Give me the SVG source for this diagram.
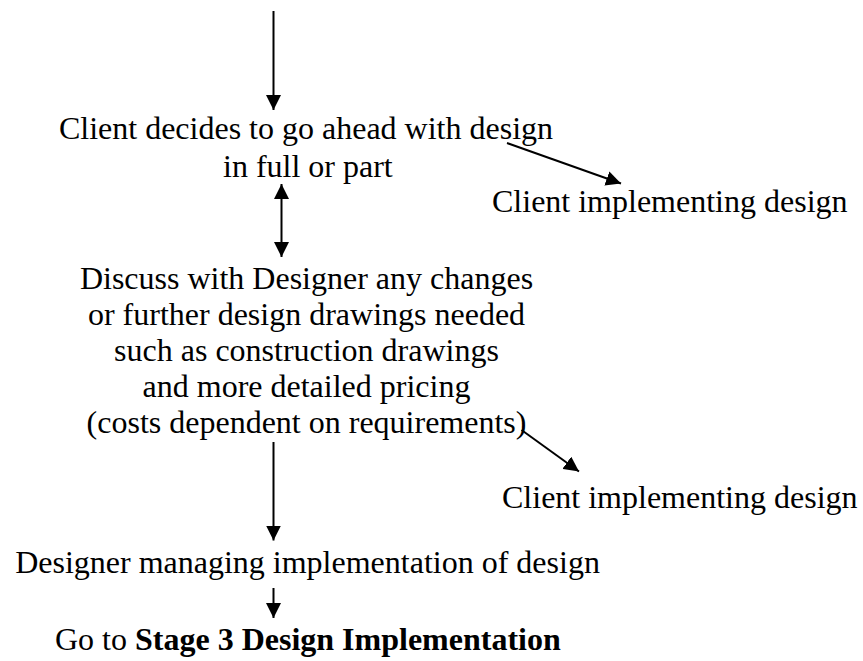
<svg xmlns="http://www.w3.org/2000/svg" width="863" height="661" viewBox="0 0 863 661">
  <style>
    text { font-family: "Liberation Serif", "Times New Roman", serif; font-size: 32px; fill: #000; }
    .b { font-weight: bold; }
    .c { stroke: #000; stroke-width: 2; fill: none; }
  </style>
  <defs>
    <marker id="ah" markerUnits="userSpaceOnUse" markerWidth="15" markerHeight="15" refX="15" refY="7.5" orient="auto-start-reverse" viewBox="0 0 15 15">
      <path d="M0,0 L15,7.5 L0,15 z" fill="#000"/>
    </marker>
  </defs>
  <rect width="863" height="661" fill="#fff"/>

  <g id="connectors">
    <line class="c" x1="273.5" y1="11" x2="273.5" y2="110" marker-end="url(#ah)"/>
    <line class="c" x1="507" y1="143" x2="621" y2="183.5" marker-end="url(#ah)"/>
    <line class="c" x1="281.5" y1="184" x2="281.5" y2="257" marker-start="url(#ah)" marker-end="url(#ah)"/>
    <line class="c" x1="521.5" y1="430" x2="579" y2="471.5" marker-end="url(#ah)"/>
    <line class="c" x1="273.5" y1="442" x2="273.5" y2="540.5" marker-end="url(#ah)"/>
    <line class="c" x1="273.5" y1="588" x2="273.5" y2="618" marker-end="url(#ah)"/>
  </g>

  <g id="node-decide">
    <text x="306" y="139" text-anchor="middle">Client decides to go ahead with design</text>
    <text x="223" y="177">in full or part</text>
  </g>

  <g id="node-client-1">
    <text x="492" y="212">Client implementing design</text>
  </g>

  <g id="node-discuss">
    <text x="306.5" y="289" text-anchor="middle">Discuss with Designer any changes</text>
    <text x="306.5" y="325" text-anchor="middle">or further design drawings needed</text>
    <text x="306.5" y="361" text-anchor="middle">such as construction drawings</text>
    <text x="306.5" y="397" text-anchor="middle">and more detailed pricing</text>
    <text x="306.5" y="433" text-anchor="middle">(costs dependent on requirements)</text>
  </g>

  <g id="node-client-2">
    <text x="502" y="508">Client implementing design</text>
  </g>

  <g id="node-manage">
    <text x="307.5" y="573" text-anchor="middle">Designer managing implementation of design</text>
  </g>

  <g id="node-stage3">
    <text x="55" y="650">Go to <tspan class="b">Stage 3 Design Implementation</tspan></text>
  </g>
</svg>
